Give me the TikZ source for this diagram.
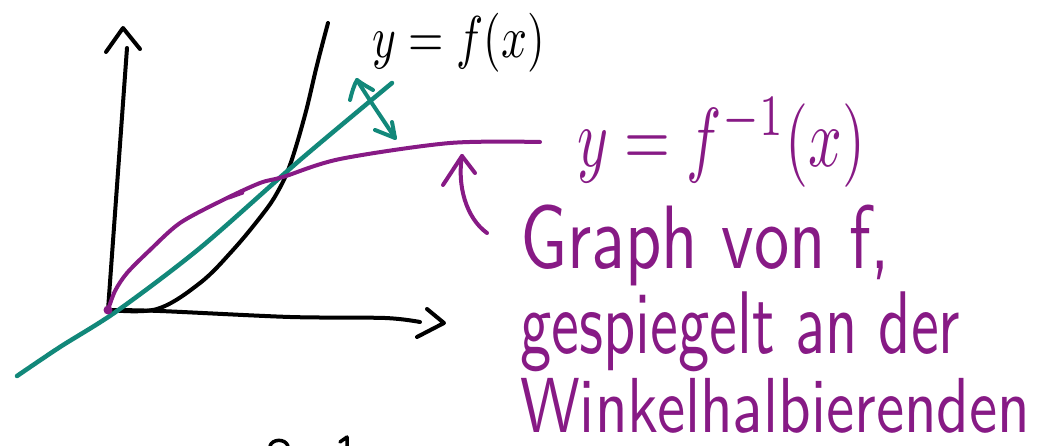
\documentclass[tikz,border=0pt]{standalone}
\usepackage{fontspec}
\usepackage{graphicx}
\definecolor{tealink}{HTML}{12887A}
\definecolor{purpink}{HTML}{871A85}
\tikzset{
  pen/.style={line width=4pt, line cap=round, line join=round},
  ink/.style={pen, draw=black},
  tealpen/.style={pen, draw=tealink, line width=4.5pt},
  purppen/.style={pen, draw=purpink},
  lbl/.style={inner sep=0pt, anchor=north west, font=\sffamily},
}
\begin{document}
\begin{tikzpicture}[x=1pt,y=-1pt]
\useasboundingbox (0,0) rectangle (1037,446);

% coordinates
\coordinate (O) at (108,310);
\coordinate (ytop) at (127,48);
\coordinate (xend) at (420,322);

% axes
\draw[ink] (O) -- (ytop);
\draw[ink] (106,52) -- (123,28) -- (140,49);
\draw[ink] plot[smooth] coordinates {(O) (160,311) (290,317) (385,318) (xend)};
\draw[ink] (427,309) -- (444,323) -- (417,337);

% graph of f
\draw[ink] plot[smooth, tension=0.6] coordinates {(110,310) (157,309) (200,283) (233,250) (262,215) (277,193) (290,165) (305,115) (317,65) (328,23)};

% bisector
\draw[tealpen] plot[smooth] coordinates {(17,376) (60,347) (117,311) (200,248) (300,160) (392,83)};
% reflection arrow
\draw[tealpen, line width=4pt] (357,80) .. controls (368,98) and (380,115) .. (395,138);
\draw[tealpen, line width=4pt] (350,100) .. controls (352,92) and (354,85) .. (357,80) .. controls (362,84) and (368,87) .. (373,90);
\draw[tealpen, line width=4pt] (375,130) -- (395,138) -- (392,122);

% graph of f^-1
\draw[purppen] plot[smooth] coordinates {(108,310) (115,291) (127,273) (150,250) (180,223) (223,200) (260,183) (283,177) (340,159) (450,143) (540,142)};
\draw[purppen, line width=3pt] (229,198) -- (243,193);
\fill[purpink] (O) circle (4.5);

% labels
\node[lbl, text=black] (fx) at (372,13) {\resizebox*{173pt}{59pt}{$y = f(x)$}};
\node[lbl, text=purpink] (finv) at (577,98) {\resizebox*{288pt}{89pt}{$y = f^{-1}(x)$}};
\node[lbl, text=purpink] (l1) at (520,205) {\resizebox*{370pt}{81pt}{Graph von f,}};
\node[lbl, text=purpink] (l2) at (520,292) {\resizebox*{440pt}{80pt}{gespiegelt an der}};
\node[lbl, text=purpink] (l3) at (520,378) {\resizebox*{510pt}{55pt}{Winkelhalbierenden}};

% pointer arrow
\coordinate (a0) at (487,233);
\coordinate (a1) at (462,156);
\draw[purppen] (a0) .. controls (466,218) and (457,185) .. (a1);
\draw[purppen] (443,185) -- (a1) -- (475,173);

% cut-off strokes at the bottom edge
\draw[ink, line width=3.5pt] (270,446) .. controls (272,439) and (285,438) .. (288,446);
\draw[ink, line width=3.5pt] (340,442) -- (347,437) -- (347,446);
\end{tikzpicture}
\end{document}
